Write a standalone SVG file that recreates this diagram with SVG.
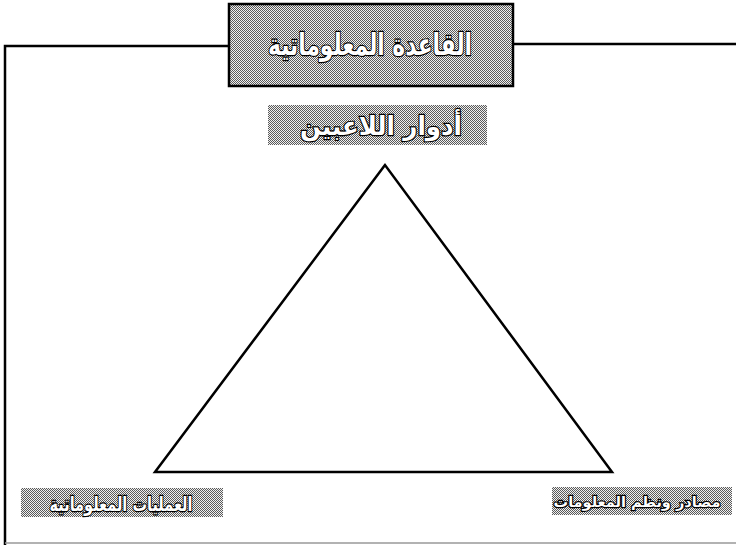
<svg xmlns="http://www.w3.org/2000/svg" width="736" height="547" viewBox="0 0 736 547">
<defs>
<pattern id="dither" width="2" height="2" patternUnits="userSpaceOnUse">
<rect width="2" height="2" fill="#f0f0f0"/>
<rect width="1" height="1" fill="#5a5a5a"/>
<rect x="1" y="1" width="1" height="1" fill="#5a5a5a"/>
</pattern>
<style>
.box{fill:url(#dither);}
.boxb{fill:url(#dither);stroke:#000;stroke-width:2.5;}
.lbl{font-family:"DejaVu Sans","Noto Sans",sans-serif;font-weight:bold;fill:#fff;stroke:#000;stroke-width:2.4;paint-order:stroke;text-anchor:middle;}
.ln{fill:none;stroke:#000;stroke-width:2.5;stroke-linejoin:miter;}
</style>
</defs>
<g id="connectors">
<polyline class="ln" points="228,46 5,46 5,545"/>
<line class="ln" x1="514" y1="44" x2="736" y2="44"/>
<line x1="5" y1="543" x2="736" y2="543" stroke="#999" stroke-width="1.5"/>
<polygon class="ln" points="385,165 155,472 612,472"/>
</g>
<g id="node-top">
<rect class="boxb" x="229" y="4" width="284" height="82"/>
<text class="lbl" x="370" y="55" font-size="30" textLength="204" lengthAdjust="spacingAndGlyphs">القاعدة المعلوماتية</text>
</g>
<g id="node-roles">
<rect class="box" x="268" y="105" width="219" height="40"/>
<text class="lbl" x="381" y="135" font-size="26" textLength="162" lengthAdjust="spacingAndGlyphs">أدوار اللاعبين</text>
</g>
<g id="node-processes">
<rect class="box" x="21" y="488" width="202" height="29"/>
<text class="lbl" x="121" y="511" font-size="20" textLength="143" lengthAdjust="spacingAndGlyphs">العمليات المعلوماتية</text>
</g>
<g id="node-sources">
<rect class="box" x="552" y="487" width="180" height="28"/>
<text class="lbl" x="637" y="507" font-size="14.5">مصادر ونظم المعلومات</text>
</g>
</svg>
